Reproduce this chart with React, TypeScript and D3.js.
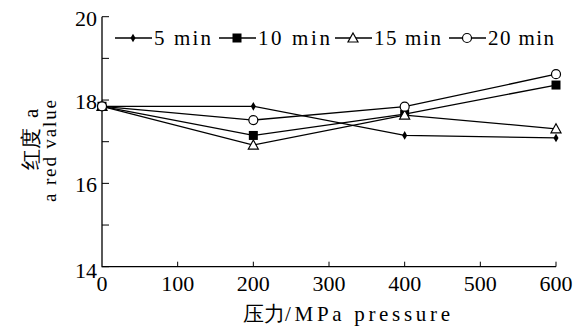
import React from 'react';
import * as d3 from 'd3';

// pressure (MPa)
const pressures = [0, 200, 400, 600];
const seriesNames = ['5 min', '10 min', '15 min', '20 min'];
const min5 = [17.85, 17.85, 17.15, 17.09];
const min10 = [17.85, 17.15, 17.66, 18.36];
const min15 = [17.85, 16.92, 17.64, 17.31];
const min20 = [17.85, 17.52, 17.84, 18.62];
const xTicks = [0, 100, 200, 300, 400, 500, 600];
const yTicks = [14, 16, 18, 20];
const yMinorTicks = [15, 17, 19];

const W = 584;
const H = 327;
const F = 'Liberation Serif';

const x = d3.scaleLinear().domain([0, 600]).range([102, 556]);
const y = d3.scaleLinear().domain([14, 20]).range([266.7, 16.7]);
const line = d3.line<number>().x((d, i) => x(pressures[i])).y(d => y(d));
const diamond = d3.symbol(d3.symbolDiamond, 22)();

const Marker = ({ kind, cx, cy }: { kind: number; cx: number; cy: number }) => {
  if (kind === 0) return <path d={diamond || ''} transform={`translate(${cx},${cy})`} fill="#000" />;
  if (kind === 1) return <rect x={cx - 4.5} y={cy - 4.5} width={9} height={9} fill="#000" />;
  if (kind === 2)
    return <path d={`M${cx},${cy - 5} L${cx + 5},${cy + 4} L${cx - 5},${cy + 4} Z`} fill="#fff" stroke="#000" strokeWidth={1.2} />;
  return <circle cx={cx} cy={cy} r={4.5} fill="#fff" stroke="#000" strokeWidth={1.2} />;
};

const App = () => {
  const all = [min5, min10, min15, min20];
  const legX = [115, 219, 335, 449];
  const legLen = [57, 72, 67, 66];
  const ly = 38;

  return (
    <svg width={W} height={H} style={{ position: 'absolute', left: 0, top: 0, background: '#fff' }}>
      <path d={`M${x(0)},${y(20)} V${y(14)} H${x(600)}`} fill="none" stroke="#000" strokeWidth={1.3} />
      {yTicks.concat(yMinorTicks).map(t => (
        <line key={'yt' + t} x1={x(0)} x2={x(0) + 7} y1={y(t)} y2={y(t)} stroke="#000" />
      ))}
      {xTicks.slice(1).map(t => (
        <line key={'xt' + t} x1={x(t)} x2={x(t)} y1={y(14)} y2={y(14) - 5} stroke="#000" />
      ))}
      {yTicks.map(t => (
        <text key={'yl' + t} x={97} y={y(t) + (t === 14 ? 11 : 9)} textAnchor="end"
          style={{ fontFamily: F, fontSize: 22 }}>{t}</text>
      ))}
      {xTicks.map(t => (
        <text key={'xl' + t} x={x(t)} y={291} textAnchor="middle"
          style={{ fontFamily: F, fontSize: 22 }}>{t}</text>
      ))}

      <text x={243} y={321} style={{ fontFamily: F, fontSize: 21 }}>
        <tspan>压力</tspan>
        <tspan textLength={165} lengthAdjust="spacing">/MPa pressure</tspan>
      </text>
      <text transform="translate(38,170) rotate(-90)" style={{ fontFamily: F, fontSize: 21 }}>
        <tspan>红度</tspan>
        <tspan dx={10}>a</tspan>
      </text>
      <text transform="translate(56,202) rotate(-90)" textLength={102} lengthAdjust="spacing"
        style={{ fontFamily: F, fontSize: 19 }}>a red value</text>

      {all.map((vals, k) => (
        <path key={'l' + k} d={line(vals) || ''} fill="none" stroke="#000" strokeWidth={1.3} />
      ))}
      {all.map((vals, k) =>
        vals.map((v, i) => <Marker key={'m' + k + '-' + i} kind={k} cx={x(pressures[i])} cy={y(v)} />)
      )}

      {seriesNames.map((name, k) => (
        <g key={'lg' + k}>
          <line x1={legX[k]} x2={legX[k] + 37} y1={ly} y2={ly} stroke="#000" strokeWidth={1.3} />
          <Marker kind={k} cx={legX[k] + 18} cy={ly} />
          <text x={legX[k] + 39} y={ly + 7} textLength={legLen[k]} lengthAdjust="spacing"
            style={{ fontFamily: F, fontSize: 21 }}>{name}</text>
        </g>
      ))}
    </svg>
  );
};

export default App;
